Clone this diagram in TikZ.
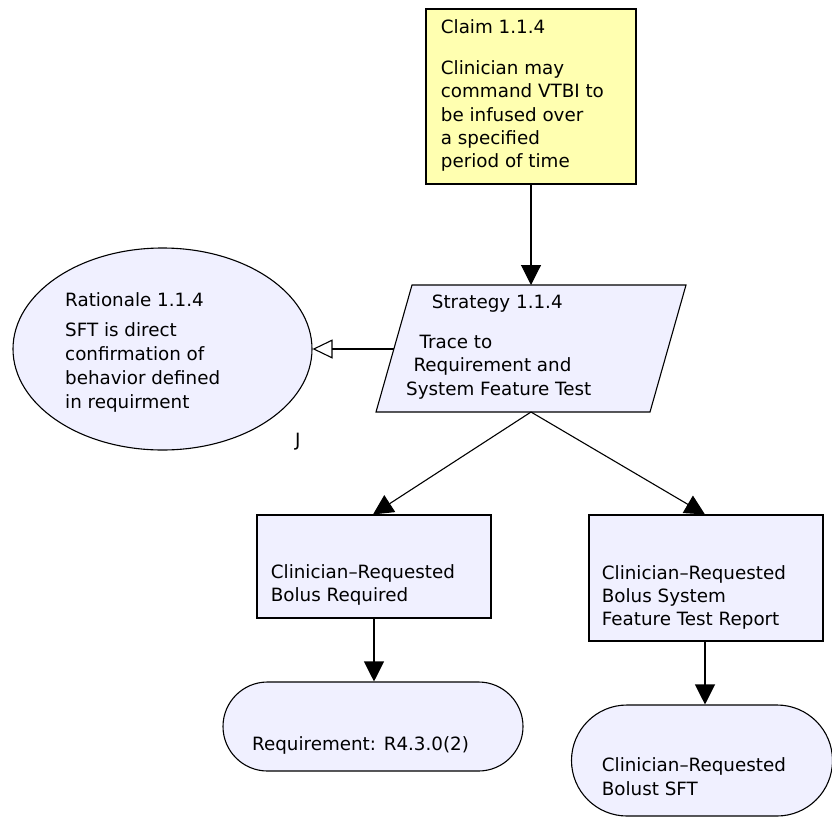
\documentclass[tikz,border=0pt]{standalone}
\usepackage{fontspec}
\setmainfont{DejaVu Sans}
\usetikzlibrary{arrows.meta,shapes.geometric}
\definecolor{claimfill}{RGB}{255,255,176}
\definecolor{boxfill}{RGB}{240,240,255}
\tikzset{
  shapeline/.style={draw=black, line width=1.1pt},
  claimbox/.style={shapeline, fill=claimfill, rectangle, inner sep=0pt},
  itembox/.style={shapeline, fill=boxfill, rectangle, inner sep=0pt},
  stadium/.style={shapeline, fill=boxfill, rectangle, inner sep=0pt},
  oval/.style={shapeline, fill=boxfill, ellipse, inner sep=0pt},
  txt/.style={anchor=base west, inner sep=0pt, font=\fontsize{18.3}{23.5}\selectfont},
  link/.style={line width=1.1pt, -{Triangle[length=20pt,width=20pt]}},
  openlink/.style={line width=1.1pt, -{Triangle[open,length=20pt,width=19pt,line width=1.1pt]}},
}
\begin{document}
\begin{tikzpicture}[x=1pt,y=-1pt]
\useasboundingbox (0,0) rectangle (832,817);

% claim
\node[claimbox, minimum width=210pt, minimum height=175pt] (claim) at (531,96.5) {};
\node[txt] (claimT) at (440.7,33) {Claim 1.1.4};
\node[txt] (claimA) at (440.7,74) {Clinician may};
\node[txt] (claimB) at (440.7,97.5) {command VTBI to};
\node[txt] (claimC) at (440.7,121) {be infused over};
\node[txt] (claimD) at (440.7,144) {a specified};
\node[txt] (claimE) at (440.7,167) {period of time};

% strategy (parallelogram)
\coordinate (stl) at (412,285);
\coordinate (str) at (686,285);
\coordinate (sbr) at (650,412);
\coordinate (sbl) at (376,412);
\coordinate (stop) at (531,285);
\coordinate (sbot) at (531,412);
\coordinate (sleft) at (394,349);
\filldraw[shapeline, fill=boxfill, line join=miter] (stl) -- (str) -- (sbr) -- (sbl) -- cycle;
\node[txt] (stratT) at (431.7,308.3) {Strategy 1.1.4};
\node[txt] (stratA) at (419.3,348.3) {Trace to};
\node[txt] (stratB) at (413.3,371.7) {Requirement and};
\node[txt] (stratC) at (406,395) {System Feature Test};

% rationale
\node[oval, minimum width=299pt, minimum height=202pt] (rat) at (162.5,349) {};
\node[txt] (ratT) at (65,306.7) {Rationale 1.1.4};
\node[txt] (ratA) at (65,336.7) {SFT is direct};
\node[txt] (ratB) at (65,360.7) {confirmation of};
\node[txt] (ratC) at (65,384.3) {behavior defined};
\node[txt] (ratD) at (65,408.3) {in requirment};
\node[txt] (ratJ) at (295,446) {J};

% solutions
\node[itembox, minimum width=234pt, minimum height=103pt] (reqbox) at (374,566.5) {};
\node[txt] (reqA) at (270.7,578.3) {Clinician–Requested};
\node[txt] (reqB) at (270.7,601.7) {Bolus Required};

\node[itembox, minimum width=234pt, minimum height=126pt] (sftbox) at (706,578) {};
\node[txt] (sftA) at (601.7,579) {Clinician–Requested};
\node[txt] (sftB) at (601.7,602.3) {Bolus System};
\node[txt] (sftC) at (601.7,625.7) {Feature Test Report};

\node[stadium, minimum width=300pt, minimum height=89pt, rounded corners=44.5pt] (reqend) at (373,726.5) {};
\node[txt] (reqendA) at (252,750.7) {Requirement: R4.3.0(2)};

\node[stadium, minimum width=261pt, minimum height=111pt, rounded corners=55.5pt] (sftend) at (702,760.5) {};
\node[txt] (sftendA) at (601.7,771.7) {Clinician–Requested};
\node[txt] (sftendB) at (601.7,795) {Bolust SFT};

% connectors
\draw[link] (claim.south) -- (stop);
\draw[openlink] (sleft) -- (rat.east);
\draw[link] (sbot) -- ([xshift=-1pt]reqbox.north);
\draw[link] (sbot) -- ([xshift=-1pt]sftbox.north);
\draw[link] (reqbox.south) -- (reqbox.south |- reqend.north);
\draw[link] ([xshift=-1pt]sftbox.south) -- ([xshift=-1pt]sftbox.south |- sftend.north);
\end{tikzpicture}
\end{document}
